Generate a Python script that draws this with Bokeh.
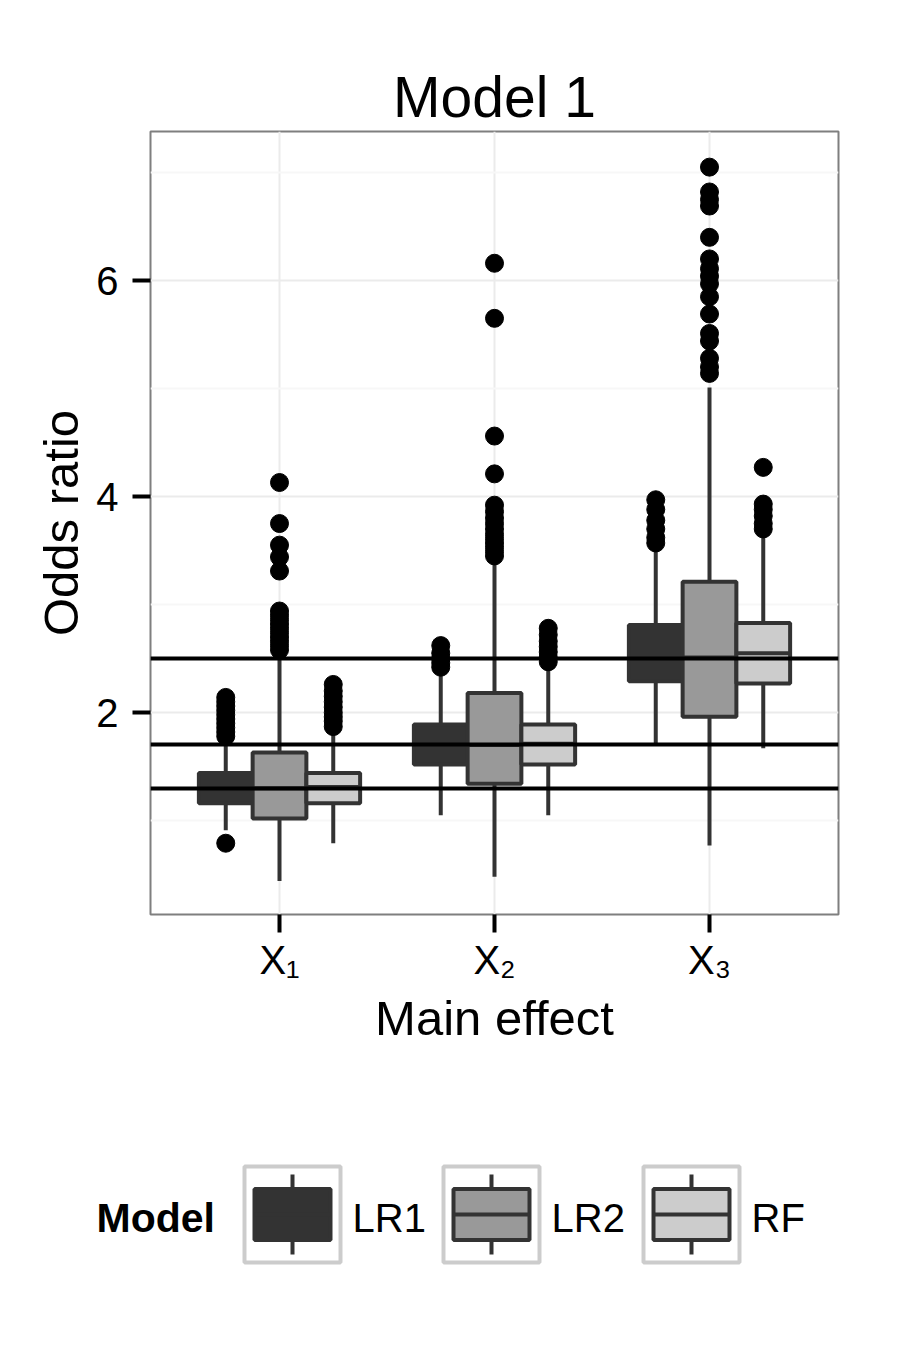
from bokeh.plotting import figure
from bokeh.models import FactorRange, FixedTicker, ColumnDataSource, Range1d
from bokeh.transform import dodge
from bokeh.layouts import column
from bokeh.core.properties import value
from bokeh.embed import file_html
from bokeh.resources import INLINE

FONT = "Liberation Sans"

# ---------------- data ----------------
effects = ["X₁", "X₂", "X₃"]
models = ["LR1", "LR2", "RF"]
ref_lines = [1.3, 1.7, 2.5]

# LR1 boxes (per effect)
lr1_lower = [0.91, 1.05, 1.71]
lr1_q1 = [1.16, 1.52, 2.29]
lr1_median = [1.29, 1.70, 2.50]
lr1_q3 = [1.44, 1.89, 2.81]
lr1_upper = [1.74, 2.39, 3.53]
lr1_out_x1 = [0.79, 1.78, 1.82, 1.86, 1.90, 1.94, 1.98, 2.02, 2.06, 2.10, 2.14]
lr1_out_x2 = [2.42, 2.46, 2.50, 2.55, 2.62]
lr1_out_x3 = [3.57, 3.62, 3.70, 3.78, 3.88, 3.97]

# LR2 boxes
lr2_lower = [0.44, 0.48, 0.77]
lr2_q1 = [1.02, 1.34, 1.96]
lr2_median = [1.30, 1.70, 2.51]
lr2_q3 = [1.63, 2.18, 3.21]
lr2_upper = [2.55, 3.41, 5.01]
lr2_out_x1 = [2.58, 2.62, 2.66, 2.70, 2.74, 2.78, 2.82, 2.86, 2.90, 2.94, 3.31, 3.44, 3.55, 3.75, 4.13]
lr2_out_x2 = [3.45, 3.49, 3.53, 3.57, 3.61, 3.65, 3.70, 3.75, 3.80, 3.86, 3.92, 4.21, 4.56, 5.65, 6.16]
lr2_out_x3 = [5.14, 5.20, 5.28, 5.44, 5.51, 5.69, 5.85, 5.97, 6.04, 6.11, 6.20, 6.40, 6.69, 6.75, 6.82, 7.05]

# RF boxes
rf_lower = [0.79, 1.05, 1.67]
rf_q1 = [1.16, 1.52, 2.27]
rf_median = [1.31, 1.71, 2.55]
rf_q3 = [1.44, 1.89, 2.83]
rf_upper = [1.83, 2.43, 3.66]
rf_out_x1 = [1.87, 1.92, 1.96, 2.00, 2.05, 2.10, 2.15, 2.20, 2.26]
rf_out_x2 = [2.47, 2.51, 2.56, 2.61, 2.66, 2.72, 2.78]
rf_out_x3 = [3.70, 3.75, 3.82, 3.88, 3.93, 4.27]

fills = ["#333333", "#999999", "#cccccc"]
offsets = [-0.25, 0.0, 0.25]

box_stats = {
    "LR1": (lr1_lower, lr1_q1, lr1_median, lr1_q3, lr1_upper, [lr1_out_x1, lr1_out_x2, lr1_out_x3]),
    "LR2": (lr2_lower, lr2_q1, lr2_median, lr2_q3, lr2_upper, [lr2_out_x1, lr2_out_x2, lr2_out_x3]),
    "RF": (rf_lower, rf_q1, rf_median, rf_q3, rf_upper, [rf_out_x1, rf_out_x2, rf_out_x3]),
}

# ---------------- main figure ----------------
p = figure(
    width=892, height=1054,
    x_range=FactorRange(*effects, range_padding=0.1, range_padding_units="absolute"),
    y_range=Range1d(0.13, 7.38),
    output_backend="svg", toolbar_location=None,
    min_border_left=150, min_border_right=54, min_border_top=131, min_border_bottom=140,
    title="Model 1",
)
p.frame_align = False
p.background_fill_color = "white"
p.border_fill_color = "white"
p.outline_line_color = "#7f7f7f"
p.outline_line_width = 2

p.title.align = "center"
p.title.text_font = FONT
p.title.text_font_size = "57px"
p.title.text_font_style = "normal"
p.title.text_color = "black"
p.title.standoff = 6

p.yaxis.ticker = FixedTicker(ticks=[2, 4, 6], minor_ticks=[1, 3, 5, 7])
p.xgrid.grid_line_color = "#ebebeb"
p.xgrid.grid_line_width = 2
p.ygrid.grid_line_color = "#ebebeb"
p.ygrid.grid_line_width = 2
p.ygrid.minor_grid_line_color = "#f7f7f7"
p.ygrid.minor_grid_line_width = 2

for ax in (p.xaxis, p.yaxis):
    ax.axis_line_color = None
    ax.major_tick_in = 0
    ax.major_tick_out = 18
    ax.major_tick_line_width = 4
    ax.major_tick_line_color = "black"
    ax.minor_tick_line_color = None
    ax.major_label_text_font = FONT
    ax.major_label_text_font_size = "40px"
    ax.major_label_text_color = "black"
    ax.axis_label_text_font = FONT
    ax.axis_label_text_font_size = "49px"
    ax.axis_label_text_font_style = "normal"
    ax.axis_label_text_color = "black"

p.xaxis.major_label_standoff = 5
p.xaxis.axis_label = "Main effect"
p.xaxis.axis_label_standoff = 6
p.yaxis.major_label_standoff = 14
p.yaxis.axis_label = "Odds ratio"
p.yaxis.axis_label_standoff = 5

for m, fill, off in zip(models, fills, offsets):
    lower, q1, med, q3, upper, outs = box_stats[m]
    src = ColumnDataSource(dict(effect=effects, lower=lower, q1=q1, med=med, q3=q3, upper=upper))
    xd = dodge("effect", off, range=p.x_range)
    p.segment(x0=xd, y0="lower", x1=xd, y1="upper", source=src, line_color="#333333", line_width=4)
    p.vbar(x=xd, width=0.25, bottom="q1", top="q3", source=src,
           fill_color=fill, line_color="#333333", line_width=4)
    p.segment(x0=dodge("effect", off - 0.125, range=p.x_range), y0="med",
              x1=dodge("effect", off + 0.125, range=p.x_range), y1="med",
              source=src, line_color="#333333", line_width=4)
    ox, oy = [], []
    for e, vals in zip(effects, outs):
        ox += [e] * len(vals)
        oy += vals
    osrc = ColumnDataSource(dict(effect=ox, val=oy))
    p.scatter(x=dodge("effect", off, range=p.x_range), y="val", source=osrc,
              size=18, fill_color="black", line_color="black")

p.hspan(y=ref_lines, line_color="black", line_width=4)

# ---------------- legend figure (coordinates = page pixels) ----------------
leg = figure(width=892, height=250, x_range=Range1d(0, 892), y_range=Range1d(1304, 1054),
             output_backend="svg", toolbar_location=None,
             min_border=0, min_border_left=0, min_border_right=0, min_border_top=0, min_border_bottom=0)
leg.frame_align = False
leg.axis.visible = False
leg.grid.visible = False
leg.outline_line_color = None
leg.background_fill_color = "white"
leg.border_fill_color = "white"

key_x = [292, 491, 691]
key_y = [1214, 1214, 1214]
leg.text(x=[96], y=[1217], text=["Model"], text_font=value(FONT), text_font_size="41px",
         text_font_style="bold", text_baseline="middle", text_align="left", text_color="black")
leg.rect(x=key_x, y=key_y, width=96, height=96, fill_color="white", line_color="#cccccc", line_width=4)
leg.segment(x0=key_x, y0=[1174] * 3, x1=key_x, y1=[1254] * 3, line_color="#333333", line_width=4)
leg.rect(x=key_x, y=key_y, width=76, height=51, fill_color=fills, line_color="#333333", line_width=4)
leg.segment(x0=[k - 38 for k in key_x], y0=key_y, x1=[k + 38 for k in key_x], y1=key_y,
            line_color="#333333", line_width=4)
leg.text(x=[k + 60 for k in key_x], y=[1217] * 3, text=models, text_font=value(FONT), text_font_size="40px",
         text_baseline="middle", text_align="left", text_color="black")

layout = column(p, leg)
open("out.html", "w").write(file_html(layout, INLINE))
